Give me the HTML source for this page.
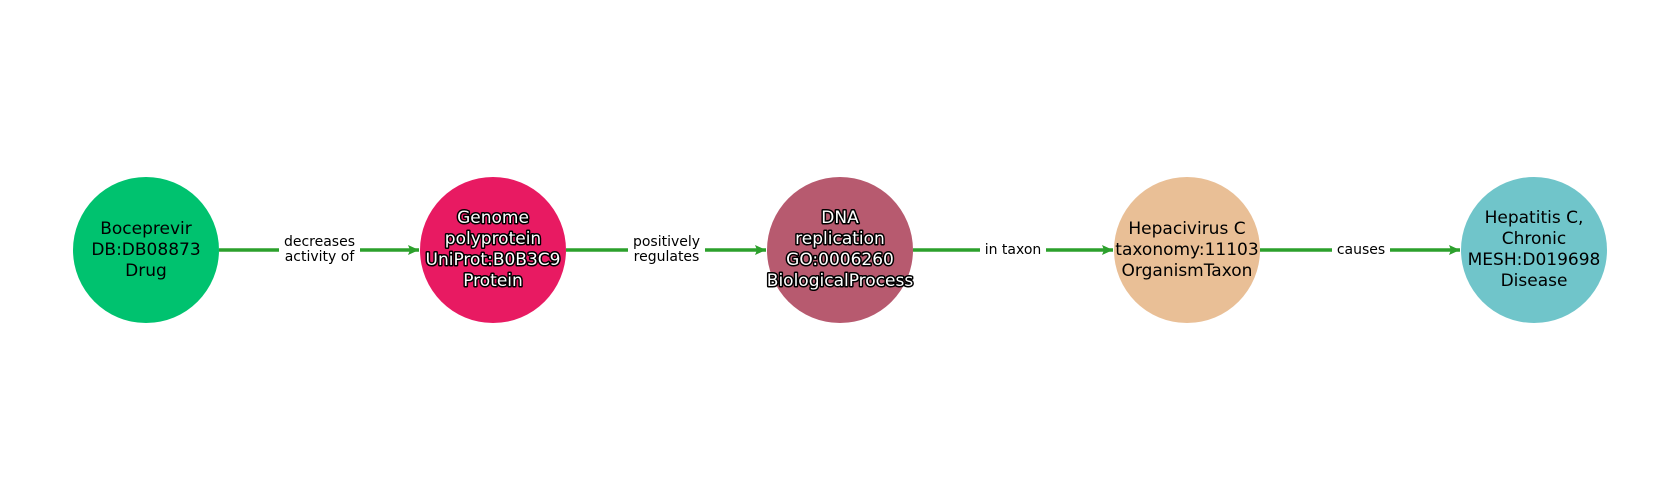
<!DOCTYPE html>
<html><head><meta charset="utf-8"><style>
html,body{margin:0;padding:0;background:#fff;}
svg{display:block;}
text{font-family:"DejaVu Sans","Liberation Sans",sans-serif;text-anchor:middle;dominant-baseline:central;}
.n{font-size:17px;fill:#000;}
.w{font-size:17px;fill:#fff;stroke:#000;stroke-width:3px;paint-order:stroke;stroke-linejoin:round;}
.e{font-size:14px;fill:#000;}
</style></head><body>
<svg width="1680" height="500" viewBox="0 0 1680 500">
<defs><marker id="a" markerWidth="12" markerHeight="12" refX="11" refY="6" orient="auto" markerUnits="userSpaceOnUse"><path d="M0,1 L11,6 L0,11 L2,6 Z" fill="#2ca02c"/></marker></defs>
<g stroke="#2ca02c" stroke-width="3.5" fill="none">
<line x1="219" y1="250" x2="419" y2="250" marker-end="url(#a)"/>
<line x1="566" y1="250" x2="766" y2="250" marker-end="url(#a)"/>
<line x1="913" y1="250" x2="1113" y2="250" marker-end="url(#a)"/>
<line x1="1260" y1="250" x2="1460" y2="250" marker-end="url(#a)"/>
</g>
<g fill="#fff">
<rect x="279" y="230" width="81" height="40"/>
<rect x="628" y="230" width="77" height="40"/>
<rect x="980" y="230" width="66" height="40"/>
<rect x="1332" y="230" width="58" height="40"/>
</g>
<text class="e" x="319.5" y="242">decreases</text>
<text class="e" x="319.5" y="257">activity of</text>
<text class="e" x="666.5" y="242">positively</text>
<text class="e" x="666.5" y="257">regulates</text>
<text class="e" x="1013" y="250">in taxon</text>
<text class="e" x="1361" y="250">causes</text>
<circle cx="146" cy="250" r="73" fill="#00c26f"/>
<circle cx="493" cy="250" r="73" fill="#e81a62"/>
<circle cx="840" cy="250" r="73" fill="#b75a6f"/>
<circle cx="1187" cy="250" r="73" fill="#e9bf96"/>
<circle cx="1534" cy="250" r="73" fill="#70c5ca"/>
<text class="n" x="146" y="229">Boceprevir</text>
<text class="n" x="146" y="250">DB:DB08873</text>
<text class="n" x="146" y="271">Drug</text>
<text class="w" x="493" y="218">Genome</text>
<text class="w" x="493" y="239">polyprotein</text>
<text class="w" x="493" y="260">UniProt:B0B3C9</text>
<text class="w" x="493" y="281">Protein</text>
<text class="w" x="840" y="218">DNA</text>
<text class="w" x="840" y="239">replication</text>
<text class="w" x="840" y="260">GO:0006260</text>
<text class="w" x="840" y="281">BiologicalProcess</text>
<text class="n" x="1187" y="229">Hepacivirus C</text>
<text class="n" x="1187" y="250">taxonomy:11103</text>
<text class="n" x="1187" y="271">OrganismTaxon</text>
<text class="n" x="1534" y="218">Hepatitis C,</text>
<text class="n" x="1534" y="239">Chronic</text>
<text class="n" x="1534" y="260">MESH:D019698</text>
<text class="n" x="1534" y="281">Disease</text>
</svg>
</body></html>
